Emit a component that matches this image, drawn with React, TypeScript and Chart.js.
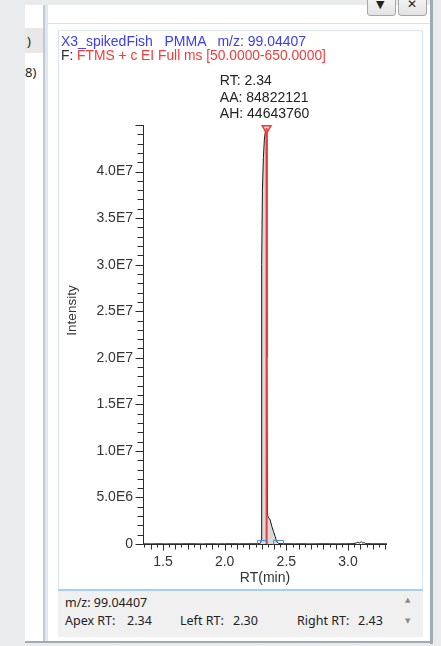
import React, { useEffect, useRef } from 'react';
import { Chart, registerables } from 'chart.js';

Chart.register(...registerables);

// ---------- data ----------
const sampleName = 'X3_spikedFish';
const compoundName = 'PMMA';
const mzValue = '99.04407';
const filterPrefix = 'F: ';
const filterText = 'FTMS + c EI Full ms [50.0000-650.0000]';

const rtValues = [
  1.340, 1.400, 1.460, 1.520, 1.580, 1.640, 1.700, 1.760, 1.820, 1.880,
  1.940, 2.000, 2.060, 2.120, 2.180, 2.240, 2.270, 2.285, 2.292, 2.296,
  2.300, 2.306, 2.314, 2.322, 2.330, 2.338, 2.340, 2.343, 2.347, 2.358,
  2.369, 2.383, 2.396, 2.410, 2.418, 2.426, 2.434, 2.450, 2.500, 2.560,
  2.620, 2.680, 2.740, 2.800, 2.860, 2.920, 2.980, 3.040, 3.070, 3.080,
  3.090, 3.100, 3.110, 3.120, 3.130, 3.140, 3.160, 3.200, 3.260, 3.316,
];
const intensityValues = [
  20000, 15000, 25000, 10000, 20000, 15000, 30000, 20000, 10000, 25000,
  15000, 20000, 30000, 20000, 25000, 30000, 40000, 60000, 100000, 400000,
  30000000, 38000000, 41500000, 43500000, 44300000, 44600000, 44643760, 20000000, 3100000, 2800000,
  2580000, 1860000, 1330000, 780000, 430000, 200000, 80000, 40000, 30000, 20000,
  25000, 15000, 20000, 30000, 20000, 15000, 25000, 30000, 120000, 200000,
  90000, 180000, 220000, 100000, 160000, 60000, 40000, 20000, 25000, 15000,
];

const apexRT = 2.34;
const apexIntensity = 44643760;
const peakArea = 84822121;
const leftRT = 2.30;
const rightRT = 2.43;

const xTickValues = [1.5, 2.0, 2.5, 3.0];
const xTickLabels = ['1.5', '2.0', '2.5', '3.0'];
const yTickValues = [0, 5e6, 1e7, 1.5e7, 2e7, 2.5e7, 3e7, 3.5e7, 4e7];
const yTickLabels = ['0', '5.0E6', '1.0E7', '1.5E7', '2.0E7', '2.5E7', '3.0E7', '3.5E7', '4.0E7'];
const xMin = 1.338;
const xMax = 3.316;
const yMax = 4.5e7;
const xTitle = 'RT(min)';
const yTitle = 'Intensity';

// ---------- styles ----------
const FONT = '"Liberation Sans", Arial, sans-serif';
const UI_FONT = '"Noto Sans", "Open Sans", sans-serif';

const overlayPlugin = {
  id: 'overlay',
  afterDatasetsDraw(chart: any) {
    const { ctx, chartArea, scales } = chart;
    const x = scales.x;
    const y = scales.y;
    const { left, right, top, bottom } = chartArea;
    ctx.save();
    ctx.strokeStyle = '#2b2b2b';
    ctx.lineWidth = 1;
    const lx = Math.round(left) + 0.5;
    const by = Math.round(bottom) + 0.5;
    // axis lines
    ctx.beginPath();
    ctx.moveTo(lx, Math.round(top));
    ctx.lineTo(lx, by);
    ctx.lineTo(Math.round(right), by);
    ctx.stroke();
    // y ticks (minor every 1e6)
    for (let i = 0; i <= 45; i++) {
      const v = i * 1e6;
      const py = Math.round(y.getPixelForValue(v)) + 0.5;
      const len = i % 5 === 0 ? 8 : 6;
      ctx.beginPath();
      ctx.moveTo(lx - len, py);
      ctx.lineTo(lx, py);
      ctx.stroke();
    }
    // x ticks (every 0.05)
    for (let i = 27; i <= 66; i++) {
      const v = i * 0.05;
      if (v > xMax) break;
      const px = Math.round(x.getPixelForValue(v)) + 0.5;
      const len = i % 10 === 0 ? 6 : i % 2 === 0 ? 5 : 3;
      ctx.beginPath();
      ctx.moveTo(px, by);
      ctx.lineTo(px, by + len);
      ctx.stroke();
    }
    // peak boundary markers
    ctx.strokeStyle = '#4a8fd6';
    [leftRT, rightRT].forEach((rt) => {
      const px = Math.round(x.getPixelForValue(rt)) + 0.5;
      ctx.beginPath();
      ctx.moveTo(px - 5, by);
      ctx.lineTo(px - 5, by - 4);
      ctx.lineTo(px + 5, by - 4);
      ctx.lineTo(px + 5, by);
      ctx.stroke();
    });
    // annotation
    const ax = x.getPixelForValue(apexRT);
    const ay = y.getPixelForValue(apexIntensity);
    const lines = ['RT: ' + apexRT.toFixed(2), 'AA: ' + peakArea, 'AH: ' + apexIntensity];
    ctx.font = '14px ' + FONT;
    ctx.fillStyle = '#222';
    ctx.textBaseline = 'middle';
    ctx.textAlign = 'left';
    const maxW = Math.max(...lines.map((l) => ctx.measureText(l).width));
    const tx = ax - maxW / 2 - 2;
    lines.forEach((l, i) => {
      ctx.fillText(l, tx, ay - 47 + i * 16.5);
    });
    // axis titles
    ctx.fillStyle = '#333';
    ctx.textAlign = 'center';
    ctx.fillText(xTitle, (left + right) / 2, bottom + 34);
    ctx.save();
    ctx.translate(left - 71, (top + bottom) / 2 - 24);
    ctx.rotate(-Math.PI / 2);
    ctx.font = '13.5px ' + FONT;
    ctx.fillText(yTitle, 0, 0);
    ctx.restore();
    ctx.restore();
  },
};

function ChromChart() {
  const ref = useRef<HTMLCanvasElement | null>(null);
  useEffect(() => {
    const canvas = ref.current;
    if (!canvas) return;
    const pts = rtValues.map((rt, i) => ({ x: rt, y: intensityValues[i] }));
    const fillPts = pts.filter((p) => p.x >= leftRT - 0.0001 && p.x <= rightRT + 0.0001);
    const chart = new Chart(canvas, {
      type: 'line',
      data: {
        datasets: [
          {
            data: fillPts,
            borderColor: 'rgba(0,0,0,0)',
            borderWidth: 0,
            backgroundColor: '#d9d9d9',
            fill: 'origin',
            pointRadius: 0,
            order: 3,
          },
          {
            data: pts,
            borderColor: '#1a1a1a',
            borderWidth: 1,
            pointRadius: 0,
            fill: false,
            order: 2,
          },
          {
            data: [
              { x: apexRT, y: 0 },
              { x: apexRT, y: apexIntensity },
            ],
            borderColor: '#f03a3a',
            borderWidth: 2,
            pointRadius: 0,
            fill: false,
            order: 1,
          },
          {
            data: [{ x: apexRT, y: apexIntensity }],
            showLine: false,
            pointStyle: 'triangle',
            rotation: 180,
            pointRadius: 5,
            borderColor: '#f03a3a',
            backgroundColor: 'rgba(255,140,140,0.35)',
            borderWidth: 1.5,
            clip: false,
            order: 0,
          },
        ] as any,
      },
      options: {
        animation: false,
        responsive: false,
        devicePixelRatio: 1,
        events: [],
        layout: { padding: { left: 0, top: 95, right: 35, bottom: 0 } },
        plugins: { legend: { display: false }, tooltip: { enabled: false }, title: { display: false } },
        scales: {
          x: {
            type: 'linear',
            min: xMin,
            max: xMax,
            grid: { display: false },
            border: { display: false },
            afterBuildTicks: (s: any) => {
              s.ticks = xTickValues.map((v) => ({ value: v }));
            },
            afterFit: (s: any) => {
              s.height = 46;
            },
            ticks: {
              padding: 2,
              color: '#333',
              font: { family: FONT, size: 14 },
              maxRotation: 0,
              autoSkip: false,
              callback: (_v: any, i: number) => xTickLabels[i],
            },
          },
          y: {
            type: 'linear',
            min: 0,
            max: yMax,
            grid: { display: false },
            border: { display: false },
            afterBuildTicks: (s: any) => {
              s.ticks = yTickValues.map((v) => ({ value: v }));
            },
            afterFit: (s: any) => {
              s.width = 85;
            },
            ticks: {
              padding: 2,
              color: '#333',
              font: { family: FONT, size: 14 },
              autoSkip: false,
              callback: (_v: any, i: number) => yTickLabels[i],
            },
          },
        },
      } as any,
      plugins: [overlayPlugin],
    });
    return () => chart.destroy();
  }, []);
  return (
    <canvas
      ref={ref}
      width={364}
      height={560}
      style={{ position: 'absolute', left: 58, top: 30, width: 364, height: 560 }}
    />
  );
}

const abs = (l: number, t: number, extra: React.CSSProperties = {}): React.CSSProperties => ({
  position: 'absolute',
  left: l,
  top: t,
  ...extra,
});

export default function App() {
  return (
    <div
      style={{
        position: 'fixed',
        left: 0,
        top: 0,
        width: 441,
        height: 646,
        background: '#e9ebec',
        overflow: 'hidden',
        fontFamily: FONT,
      }}
    >
      {/* window */}
      <div style={abs(25, 5, { width: 405, height: 636, background: '#fff' })} />
      <div style={abs(430, 0, { width: 3, height: 644, background: '#9eabb6' })} />
      <div style={abs(25, 641, { width: 408, height: 2, background: '#a3aab1' })} />
      {/* left strip */}
      <div style={abs(25, 28, { width: 18, height: 25, background: '#e8e8e8' })} />
      <div style={abs(27, 32, { fontSize: 13, color: '#222', fontFamily: UI_FONT })}>)</div>
      <div style={abs(25, 63, { fontSize: 13, color: '#222', fontFamily: UI_FONT })}>8)</div>
      <div style={abs(43, 5, { width: 2, height: 636, background: '#c3c9cf' })} />
      <div style={abs(45, 5, { width: 3, height: 636, background: '#dde8f1' })} />
      {/* header line + buttons */}
      <div style={abs(48, 23, { width: 382, height: 1, background: '#e2e2e2' })} />
      <div
        style={abs(367, -4, {
          width: 29,
          height: 20,
          background: 'linear-gradient(#f6f6f6, #e2e2e2)',
          border: '1px solid #a7a7a7',
          borderRadius: 3,
          boxSizing: 'border-box',
        })}
      />
      <div
        style={abs(398, -4, {
          width: 29,
          height: 20,
          background: 'linear-gradient(#f6f6f6, #e2e2e2)',
          border: '1px solid #a7a7a7',
          borderRadius: 3,
          boxSizing: 'border-box',
        })}
      />
      <div style={abs(376, -2, { fontSize: 11, color: '#222', fontFamily: 'DejaVu Sans' })}>▼</div>
      <div style={abs(407, -3, { fontSize: 12, color: '#222', fontFamily: 'DejaVu Sans', fontWeight: 'bold' })}>✕</div>
      {/* chart panel */}
      <div
        style={abs(58, 30, {
          width: 365,
          height: 560,
          border: '1px solid #d6e6f3',
          borderBottom: 'none',
          boxSizing: 'border-box',
          background: '#fff',
        })}
      />
      <ChromChart />
      <div style={abs(61, 34, { fontSize: 14, color: '#3b3bf5', whiteSpace: 'pre', lineHeight: '15px' })}>
        {sampleName + '   ' + compoundName + '   m/z: ' + mzValue}
      </div>
      <div style={abs(61, 48, { fontSize: 13.8, whiteSpace: 'pre', lineHeight: '15px' })}>
        <span style={{ color: '#333' }}>{filterPrefix}</span>
        <span style={{ color: '#f23c3c' }}>{filterText}</span>
      </div>
      {/* info panel */}
      <div
        style={abs(58, 589, {
          width: 365,
          height: 48,
          background: '#f0f0f0',
          borderTop: '2px solid #a9d0ea',
          boxSizing: 'border-box',
        })}
      />
      <div style={abs(65, 594, { fontSize: 12.5, color: '#222', fontFamily: UI_FONT, whiteSpace: 'pre' })}>
        {'m/z: ' + mzValue}
      </div>
      <div style={abs(65, 612, { fontSize: 12.5, color: '#222', fontFamily: UI_FONT, whiteSpace: 'pre' })}>Apex RT:</div>
      <div style={abs(127, 612, { fontSize: 12.5, color: '#222', fontFamily: UI_FONT })}>{apexRT.toFixed(2)}</div>
      <div style={abs(180, 612, { fontSize: 12.5, color: '#222', fontFamily: UI_FONT, whiteSpace: 'pre' })}>Left RT:</div>
      <div style={abs(233, 612, { fontSize: 12.5, color: '#222', fontFamily: UI_FONT })}>{leftRT.toFixed(2)}</div>
      <div style={abs(297, 612, { fontSize: 12.5, color: '#222', fontFamily: UI_FONT, whiteSpace: 'pre' })}>Right RT:</div>
      <div style={abs(358, 612, { fontSize: 12.5, color: '#222', fontFamily: UI_FONT })}>{rightRT.toFixed(2)}</div>
      <div style={abs(405, 596, { fontSize: 7, color: '#8a8a8a', fontFamily: 'DejaVu Sans' })}>▲</div>
      <div style={abs(405, 617, { fontSize: 7, color: '#8a8a8a', fontFamily: 'DejaVu Sans' })}>▼</div>
    </div>
  );
}
